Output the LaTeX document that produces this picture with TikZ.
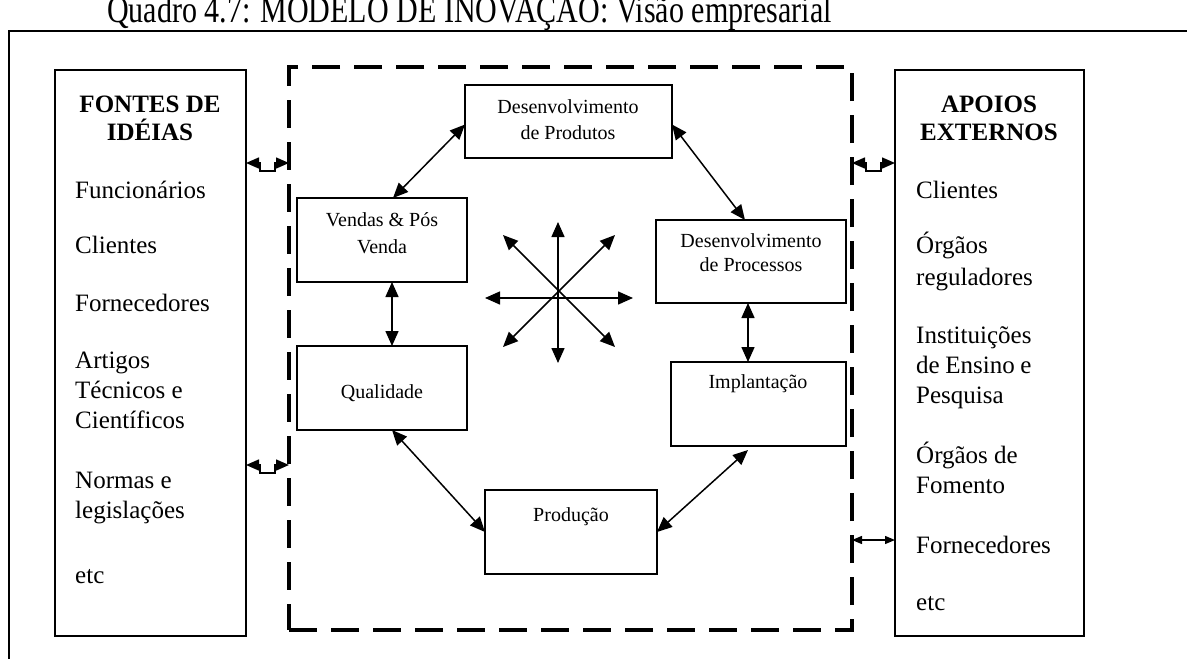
\documentclass[tikz,border=0pt]{standalone}
\usepackage{fontspec}
\setmainfont{Liberation Serif}
\usepackage{graphicx}
\usepackage{calc}
\usetikzlibrary{arrows.meta,calc}
\begin{document}
\begin{tikzpicture}[x=1pt,y=-1pt,
  box/.style={draw, line width=1.6pt, inner sep=0pt, outer sep=0pt, anchor=north west},
  core/.style={draw, line width=4pt, dash pattern=on 28pt off 14pt, inner sep=0pt, outer sep=0pt, anchor=north west},
  side/.style={inner sep=0pt, anchor=base west, font=\fontsize{25}{29}\selectfont},
  head/.style={inner sep=0pt, anchor=base, font=\bfseries\fontsize{25}{29}\selectfont},
  txt/.style={inner sep=0pt, anchor=base, font=\fontsize{20}{23}\selectfont},
  dbl/.style={line width=1.5pt, {Triangle[length=15pt,width=13pt]}-{Triangle[length=15pt,width=13pt]}},
  sdbl/.style={line width=1.5pt, {Triangle[length=13pt,width=11pt]}-{Triangle[length=13pt,width=11pt]}},
  tdbl/.style={line width=1.3pt, {Triangle[length=10pt,width=8pt]}-{Triangle[length=10pt,width=8pt]}}
]
\useasboundingbox (0,0) rectangle (1187,659);

% title and page frame
\node[inner sep=0pt, anchor=base west] (title) at (107,22)
  {\scalebox{0.79}[1]{\fontsize{38}{42}\selectfont Quadro 4.7: MODELO DE INOVAÇÃO: Visão empresarial}};
\coordinate (fa) at (9,659);
\coordinate (fb) at (9,31);
\coordinate (fc) at (1187,31);
\draw[line width=1.8pt] (fa) -- (fb);
\draw[line width=2.4pt] ($(fb)+(-0.9,0)$) -- (fc);

% side boxes
\node[box, minimum width=191pt, minimum height=566pt] (fontes) at (55,70) {};
\node[box, minimum width=189pt, minimum height=566pt] (apoios) at (895,70) {};

\node[head] (f1) at (150,112) {FONTES DE};
\node[head] (f2) at (150,140) {IDÉIAS};
\node[side] (f3) at (75,198) {Funcionários};
\node[side] (f4) at (75,253) {Clientes};
\node[side] (f5) at (75,311) {Fornecedores};
\node[side] (f6) at (75,368) {Artigos};
\node[side] (f7) at (75,398) {Técnicos e};
\node[side] (f8) at (75,428) {Científicos};
\node[side] (f9) at (75,488) {Normas e};
\node[side] (f10) at (75,518) {legislações};
\node[side] (f11) at (75,583) {etc};

\node[head] (a1) at (989,112) {APOIOS};
\node[head] (a2) at (989,140) {EXTERNOS};
\node[side] (a3) at (916,198) {Clientes};
\node[side] (a4) at (916,253) {Órgãos};
\node[side] (a5) at (916,285) {reguladores};
\node[side] (a6) at (916,343) {Instituições};
\node[side] (a7) at (916,373) {\makebox[\widthof{Instituições}][s]{de Ensino e}};
\node[side] (a8) at (916,403) {Pesquisa};
\node[side] (a9) at (916,463) {Órgãos de};
\node[side] (a10) at (916,493) {Fomento};
\node[side] (a11) at (916,553) {Fornecedores};
\node[side] (a12) at (916,610) {etc};

% central dashed area
\node[core, minimum width=563pt, minimum height=563pt] (core) at (289,67) {};

% inner boxes
\node[box, minimum width=207pt, minimum height=73pt] (dprod) at (465,85) {};
\node[box, minimum width=170pt, minimum height=84pt] (vendas) at (297,198) {};
\node[box, minimum width=190pt, minimum height=83pt] (dproc) at (656,220) {};
\node[box, minimum width=170pt, minimum height=84pt] (qual) at (297,346) {};
\node[box, minimum width=175pt, minimum height=84pt] (impl) at (671,362) {};
\node[box, minimum width=172pt, minimum height=84pt] (prod) at (485,490) {};

\node[txt] (t1) at (568,113) {Desenvolvimento};
\node[txt] (t2) at (568,139) {de Produtos};
\node[txt] (t3) at (382,226) {Vendas \& Pós};
\node[txt] (t4) at (382,253) {Venda};
\node[txt] (t5) at (751,247) {Desenvolvimento};
\node[txt] (t6) at (751,271) {de Processos};
\node[txt] (t7) at (382,398) {Qualidade};
\node[txt] (t8) at (758,388) {Implantação};
\node[txt] (t9) at (571,521) {Produção};

% connectors between inner boxes
\draw[dbl] ([xshift=11pt]vendas.north) -- ([yshift=-3pt]dprod.west);
\draw[dbl] ([yshift=-3pt]dprod.east) -- ([xshift=-6pt]dproc.north);
\draw[dbl] ([xshift=10pt]vendas.south) -- ([xshift=10pt]qual.north);
\draw[dbl] ([xshift=-3pt]dproc.south) -- ([xshift=-10.5pt]impl.north);
\draw[dbl] ([xshift=10pt]qual.south) -- (prod.west);
\draw[dbl] (prod.east) -- ([xshift=-10.5pt,yshift=-4pt]impl.south);

% star of arrows
\coordinate (hub) at (558,290);
\draw[dbl] ($(hub)+(0,-68)$) -- ($(hub)+(0,73)$);
\draw[dbl] ($(hub)+(-73,8)$) -- ($(hub)+(75,8)$);
\draw[dbl] ($(hub)+(-55,-55)$) -- ($(hub)+(57,57)$);
\draw[dbl] ($(hub)+(57,-55)$) -- ($(hub)+(-55,57)$);

% side connectors
\draw[sdbl] (fontes.east |- 0,163) -- ++(14,0) -- ++(0,8) -- ++(15,0) -- ++(0,-8) -- (core.west |- 0,163);
\draw[sdbl] (fontes.east |- 0,465) -- ++(14,0) -- ++(0,8) -- ++(15,0) -- ++(0,-8) -- (core.west |- 0,465);
\draw[sdbl] (core.east |- 0,163) -- ++(14,0) -- ++(0,8) -- ++(15,0) -- ++(0,-8) -- (apoios.west |- 0,163);
\draw[tdbl] (core.east |- 0,540) -- (apoios.west |- 0,540);
\end{tikzpicture}
\end{document}
